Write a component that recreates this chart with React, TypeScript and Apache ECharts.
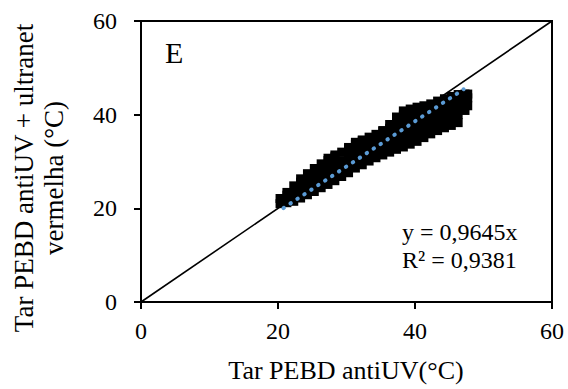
import React, { useEffect, useRef } from "react";
import * as echarts from "echarts";

const xTicks = [0, 20, 40, 60];
const yTicks = [0, 20, 40, 60];

const cloudPoints: [number, number][] = [
  [20.3, 21.0], [20.3, 22.1],
  [21.3, 21.2], [21.3, 22.8], [21.3, 23.4],
  [22.3, 21.5], [22.3, 23.2], [22.3, 24.8],
  [23.3, 22.2], [23.3, 23.9], [23.3, 25.6], [23.3, 26.3],
  [24.3, 22.9], [24.3, 24.6], [24.3, 26.3], [24.3, 27.4],
  [25.3, 23.6], [25.3, 25.3], [25.3, 27.0], [25.3, 28.5],
  [26.3, 24.4], [26.3, 26.1], [26.3, 27.8], [26.3, 29.5],
  [27.3, 25.1], [27.3, 26.8], [27.3, 28.5], [27.3, 30.2], [27.3, 30.7],
  [28.3, 25.9], [28.3, 27.6], [28.3, 29.3], [28.3, 31.0], [28.3, 31.4],
  [29.3, 26.8], [29.3, 28.5], [29.3, 30.2], [29.3, 32.0],
  [30.3, 27.6], [30.3, 29.3], [30.3, 31.0], [30.3, 32.7], [30.3, 33.0],
  [31.3, 28.6], [31.3, 30.3], [31.3, 32.0], [31.3, 33.7], [31.3, 34.1],
  [32.3, 29.3], [32.3, 31.0], [32.3, 32.7], [32.3, 34.4], [32.3, 34.6],
  [33.3, 30.1], [33.3, 31.8], [33.3, 33.5], [33.3, 35.2],
  [34.3, 30.8], [34.3, 32.5], [34.3, 34.2], [34.3, 35.8],
  [35.3, 31.4], [35.3, 33.1], [35.3, 34.8], [35.3, 36.5], [35.3, 36.6],
  [36.3, 32.0], [36.3, 33.7], [36.3, 35.4], [36.3, 37.1], [36.3, 37.9],
  [37.3, 32.6], [37.3, 34.3], [37.3, 36.0], [37.3, 37.7], [37.3, 39.4], [37.3, 39.5],
  [38.3, 33.1], [38.3, 34.8], [38.3, 36.5], [38.3, 38.2], [38.3, 39.9], [38.3, 40.8],
  [39.3, 33.7], [39.3, 35.4], [39.3, 37.1], [39.3, 38.8], [39.3, 40.5], [39.3, 41.2],
  [40.3, 34.3], [40.3, 36.0], [40.3, 37.7], [40.3, 39.4], [40.3, 41.1], [40.3, 41.6],
  [41.3, 35.1], [41.3, 36.8], [41.3, 38.5], [41.3, 40.2], [41.3, 41.9],
  [42.3, 35.9], [42.3, 37.6], [42.3, 39.3], [42.3, 41.0], [42.3, 42.3],
  [43.3, 36.6], [43.3, 38.3], [43.3, 40.0], [43.3, 41.7], [43.3, 42.9],
  [44.3, 37.2], [44.3, 38.9], [44.3, 40.6], [44.3, 42.3], [44.3, 43.4],
  [45.3, 37.7], [45.3, 39.4], [45.3, 41.1], [45.3, 42.8], [45.3, 43.9],
  [46.3, 38.3], [46.3, 40.0], [46.3, 41.7], [46.3, 43.4], [46.3, 44.3],
  [47.3, 40.9], [47.3, 42.6], [47.3, 44.4],
  [47.7, 41.9], [47.7, 43.6], [47.7, 44.4],
];

// 1:1 reference line
const identityLine: [number, number][] = [[0, 0], [60, 60]];
// Linear trend y = 0,9645x
const trendLine: [number, number][] = [[20.8, 20.06], [47.1, 45.43]];

const equationText = "y = 0,9645x";
const r2Text = "R² = 0,9381";
const panelLabel = "E";
const xTitle = "Tar PEBD antiUV(°C)";
const yTitleLine1 = "Tar PEBD antiUV + ultranet";
const yTitleLine2 = "vermelha (°C)";

const FONT = "'Times New Roman', 'Liberation Serif', serif";

export default function App() {
  const ref = useRef<HTMLDivElement>(null);
  useEffect(() => {
    if (!ref.current) return;
    const chart = echarts.init(ref.current, undefined, { renderer: "svg" });
    const axisCommon = {
      type: "value" as const,
      min: 0,
      max: 60,
      interval: 20,
      axisLine: { show: true, lineStyle: { color: "#000", width: 2 } },
      axisTick: { show: true, inside: false, length: 7, lineStyle: { color: "#000", width: 2 } },
      splitLine: { show: false },
    };
    const txt = (text: string, x: number, y: number, size: number, align: string, extra: any = {}) => ({
      type: "text",
      x,
      y,
      ...extra,
      style: {
        text,
        fontFamily: FONT,
        fontSize: size,
        fill: "#000",
        textAlign: align,
        textVerticalAlign: "middle",
      },
    });
    chart.setOption({
      animation: false,
      backgroundColor: "#fff",
      textStyle: { fontFamily: FONT, color: "#000" },
      grid: {
        left: 141,
        right: 16,
        top: 21,
        bottom: 87,
        show: true,
        borderColor: "#000",
        borderWidth: 2,
        containLabel: false,
      },
      xAxis: {
        ...axisCommon,
        axisLabel: {
          color: "#000",
          fontFamily: FONT,
          fontSize: 24,
          margin: 17,
          formatter: (v: number) => (xTicks.includes(v) ? String(v) : ""),
        },
      },
      yAxis: {
        ...axisCommon,
        axisLabel: {
          color: "#000",
          fontFamily: FONT,
          fontSize: 24,
          margin: 24,
          formatter: (v: number) => (yTicks.includes(v) ? String(v) : ""),
        },
      },
      series: [
        {
          type: "line",
          data: identityLine,
          symbol: "none",
          lineStyle: { color: "#000", width: 1.6 },
          z: 1,
        },
        {
          type: "scatter",
          data: cloudPoints,
          symbol: "rect",
          symbolSize: 9,
          itemStyle: { color: "#000", opacity: 1, borderWidth: 0 },
          z: 2,
        },
        {
          type: "line",
          data: trendLine,
          symbol: "none",
          lineStyle: { color: "#5b9bd5", width: 4, type: [0.5, 7.8], cap: "round", opacity: 1 },
          z: 3,
        },
      ],
      graphic: [
        txt(panelLabel, 165, 52, 30, "left"),
        txt(equationText, 402, 232, 24, "left"),
        txt(r2Text, 402, 260, 24, "left"),
        txt(xTitle, 346, 370.5, 26, "center"),
        txt(yTitleLine1, 24, 178, 27, "center", { rotation: Math.PI / 2 }),
        txt(yTitleLine2, 54, 178, 27, "center", { rotation: Math.PI / 2 }),
      ],
    });
    return () => chart.dispose();
  }, []);
  return (
    <div
      ref={ref}
      style={{ position: "fixed", left: 0, top: 0, width: 568, height: 389, background: "#fff" }}
    />
  );
}
